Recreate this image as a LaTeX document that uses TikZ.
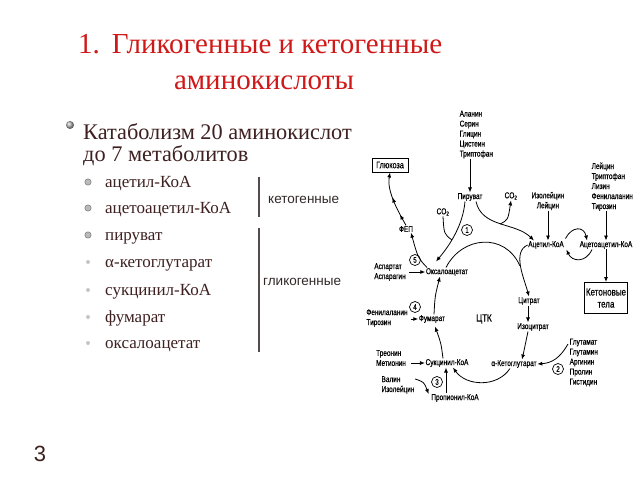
\documentclass[tikz,border=0pt]{standalone}
\usepackage{fontspec}
\setmainfont{Liberation Serif}
\newfontfamily\dsans[FakeStretch=0.76,FakeBold=0.5]{Liberation Sans}
\newfontfamily\lsans{Liberation Sans}
\usetikzlibrary{arrows.meta,decorations.markings}
\definecolor{titlered}{RGB}{208,24,24}
\definecolor{bodytxt}{RGB}{62,32,32}
\definecolor{rulegray}{RGB}{85,75,75}
\begin{document}
\begin{tikzpicture}[x=1pt,y=-1pt,
  dt/.style={font=\dsans\fontsize{8.5}{10}\selectfont, inner sep=0.5pt, text=black},
  dl/.style={dt, align=left},
  arr/.style={-{Latex[length=5pt,width=4pt]}, line width=0.8pt},
  ln/.style={line width=0.8pt},
  circnum/.style={draw, circle, line width=0.7pt, inner sep=0.3pt, minimum size=11pt, font=\dsans\fontsize{8}{8}\selectfont},
  subitem/.style={anchor=base west, font=\fontsize{17}{18}\selectfont, text=bodytxt, inner sep=0pt},
  mainitem/.style={anchor=base west, font=\fontsize{22.3}{22}\selectfont, text=bodytxt, inner sep=0pt},
  titletxt/.style={font=\fontsize{29}{30}\selectfont, text=titlered, inner sep=0pt},
  grouplbl/.style={anchor=base west, font=\lsans\fontsize{13.5}{14}\selectfont, text={rgb,255:red,50;green,40;blue,40}, inner sep=0pt},
  bigbul/.style={fill=gray!55, draw=gray!80!black, line width=0.4pt},
  smallbul/.style={fill=gray!45},
  box/.style={draw, line width=1pt}
]
\useasboundingbox (0,0) rectangle (638,479);
\fill[white] (0,0) rectangle (638,479);

% ---------- title ----------
\node[titletxt, anchor=base west] (t1) at (78,53) {1.\hspace{12pt}Гликогенные и кетогенные};
\node[titletxt, anchor=base] (t2) at (264,89) {аминокислоты};

% ---------- left text ----------
\shade[ball color=gray!60] (70,125) circle (4);
\node[mainitem] (m1) at (83,139) {Катаболизм 20 аминокислот};
\node[mainitem] (m2) at (83,161) {до 7 метаболитов};

\node[subitem] (s1) at (105,187) {ацетил-КоА};
\node[subitem] (s2) at (105,213) {ацетоацетил-КоА};
\node[subitem] (s3) at (105,240) {пируват};
\node[subitem] (s4) at (105,267) {α-кетоглутарат};
\node[subitem] (s5) at (105,295) {сукцинил-КоА};
\node[subitem] (s6) at (105,322) {фумарат};
\node[subitem] (s7) at (105,348) {оксалоацетат};

\filldraw[bigbul] (88,182) circle (3.2);
\filldraw[bigbul] (88,208) circle (3.2);
\filldraw[bigbul] (88,235) circle (3.2);
\fill[smallbul] (88,262) circle (2);
\fill[smallbul] (88,290) circle (2);
\fill[smallbul] (88,317) circle (2);
\fill[smallbul] (88,343) circle (2);

\draw[rulegray, line width=1.2pt] (259,177) -- (259,217);
\draw[rulegray, line width=1.2pt] (259,228) -- (259,352);
\node[grouplbl] (kg) at (268,203) {кетогенные};
\node[grouplbl] (gg) at (263,285) {гликогенные};

\node[font=\lsans\fontsize{22}{22}\selectfont, text=bodytxt] (pg) at (40,454) {3};

% ---------- diagram ----------
\node[dl, anchor=north west] (aalist) at (459,110) {Аланин\\Серин\\Глицин\\Цистеин\\Триптофан};
\node[dt] (pyr) at (470,197) {Пируват};
\node[dt, box, font=\dsans\fontsize{9.5}{10}\selectfont, minimum width=36pt, minimum height=14pt, inner sep=1pt] (gluc) at (390,165) {Глюкоза};
\node[dt] (fep) at (406,229) {ФЕП};
\node[dt] (co2a) at (443,212) {CO\textsubscript{2}};
\node[dt] (co2b) at (511,196) {CO\textsubscript{2}};
\node[circnum] (c1) at (467,230) {1};
\node[dt, align=center] (ile) at (548,201) {Изолейцин\\Лейцин};
\node[dl, anchor=north west] (klist) at (591,162) {Лейцин\\Триптофан\\Лизин\\Фенилаланин\\Тирозин};
\node[dt] (acoa) at (546,245) {Ацетил-КоА};
\node[dt] (aacoa) at (606,245) {Ацетоацетил-КоА};
\node[dt, box, align=center, font=\dsans\fontsize{10.5}{12}\selectfont, minimum width=43pt, minimum height=31pt] (ket) at (606,298) {Кетоновые\\тела};
\node[dt] (cit) at (529,301) {Цитрат};
\node[dt] (iso) at (533,327) {Изоцитрат};
\node[dt] (akg) at (514,364) {α-Кетоглутарат};
\node[dl, anchor=north west] (glist) at (569,338) {Глутамат\\Глутамин\\Аргинин\\Пролин\\Гистидин};
\node[circnum] (c2) at (558,369) {2};
\node[dt] (succ) at (447,363) {Сукцинил-КоА};
\node[dl] (thr) at (391,358) {Треонин\\Метионин};
\node[dl] (val) at (398,385) {Валин\\Изолейцин};
\node[dt] (prop) at (455,398) {Пропионил-КоА};
\node[circnum] (c3) at (437,382) {3};
\node[dt] (fum) at (432,319) {Фумарат};
\node[dt] (oaa) at (447,272) {Оксалоацетат};
\node[dl] (asp) at (390,272) {Аспартат\\Аспарагин};
\node[dl] (phe) at (387,318) {Фенилаланин\\Тирозин};
\node[circnum] (c4) at (415,307) {4};
\node[circnum] (c5) at (415,260) {5};
\node[dt, font=\dsans\fontsize{10.5}{12}\selectfont] (tca) at (484,319) {ЦТК};

\coordinate (j1) at (452,240);
\coordinate (j2) at (500,224);
\coordinate (j3) at (520,266);

% connectors
\draw[arr] (pyr.north |- aalist.south) -- (pyr.north);
\draw[arr, postaction={decorate}, decoration={markings,
    mark=at position 0.22 with {\arrow{Latex[length=5pt,width=4pt]}},
    mark=at position 0.55 with {\arrow{Latex[length=5pt,width=4pt]}}}]
  (fep.north) .. controls (396,208) and (387,190) .. (gluc.south);
\draw[arr] ([xshift=-5pt]pyr.south) .. controls (463,225) and (450,245) .. ([shift={(-11pt,6pt)}]oaa.north);
\draw[ln] (co2a.south) .. controls (444,234) .. (j1);
\draw[arr] ([xshift=6pt]pyr.south) .. controls (482,228) and (515,222) .. ([xshift=-12pt]acoa.north);
\draw[arr] (j2) .. controls (508,220) .. (co2b.south);
\draw[arr] (ile.south) -- (ile.south |- acoa.north);
\draw[arr] (aacoa.north |- klist.south) -- (aacoa.north);
\draw[arr] ([shift={(1pt,2pt)}]acoa.north east) .. controls (572,226) and (584,226) .. ([xshift=8pt]aacoa.north west);
\draw[arr] ([xshift=-14pt]aacoa.south) .. controls (586,263) and (572,262) .. ([xshift=2pt]acoa.south east);
\draw[arr] (aacoa.south) -- (ket.north);
\draw[arr] (acoa.west) .. controls (512,252) and (524,278) .. (cit.north);
\draw[ln] ([xshift=-1pt]oaa.north) .. controls (462,236) and (505,232) .. (j3);
\draw[arr] ([xshift=-1pt]cit.south) -- ([xshift=-1pt]cit.south |- iso.north);
\draw[arr] ([xshift=-5pt]iso.south) .. controls (526,343) .. ([xshift=8pt]akg.north);
\draw[arr] ([shift={(-1pt,-6pt)}]glist.north west) .. controls (560,358) and (552,363) .. (akg.east);
\draw[arr] ([xshift=-4pt]akg.south) .. controls (497,388) and (466,386) .. ([xshift=6pt]succ.south);
\draw[arr] ([xshift=4pt]thr.east |- succ.west) -- (succ.west);
\draw[arr] ([yshift=6pt]val.east) .. controls (424,382) .. ([shift={(-2pt,4pt)}]prop.west);
\draw[arr] ([xshift=-9pt]prop.north) -- ([xshift=-9pt]prop.north |- succ.south);
\draw[arr] ([xshift=-4pt]succ.north) .. controls (441,343) .. ([shift={(3pt,-3pt)}]fum.south);
\draw[arr] ([xshift=2pt]fum.north) .. controls (435,296) .. ([xshift=-7pt]oaa.south);
\draw[arr] ([xshift=3pt]asp.east |- oaa.west) -- (oaa.west);
\draw[arr] ([xshift=3pt]phe.east |- fum.west) -- (fum.west);
\draw[arr] ([xshift=-20pt]oaa.north) .. controls (418,258) .. ([xshift=5pt]fep.south);
\end{tikzpicture}
\end{document}
